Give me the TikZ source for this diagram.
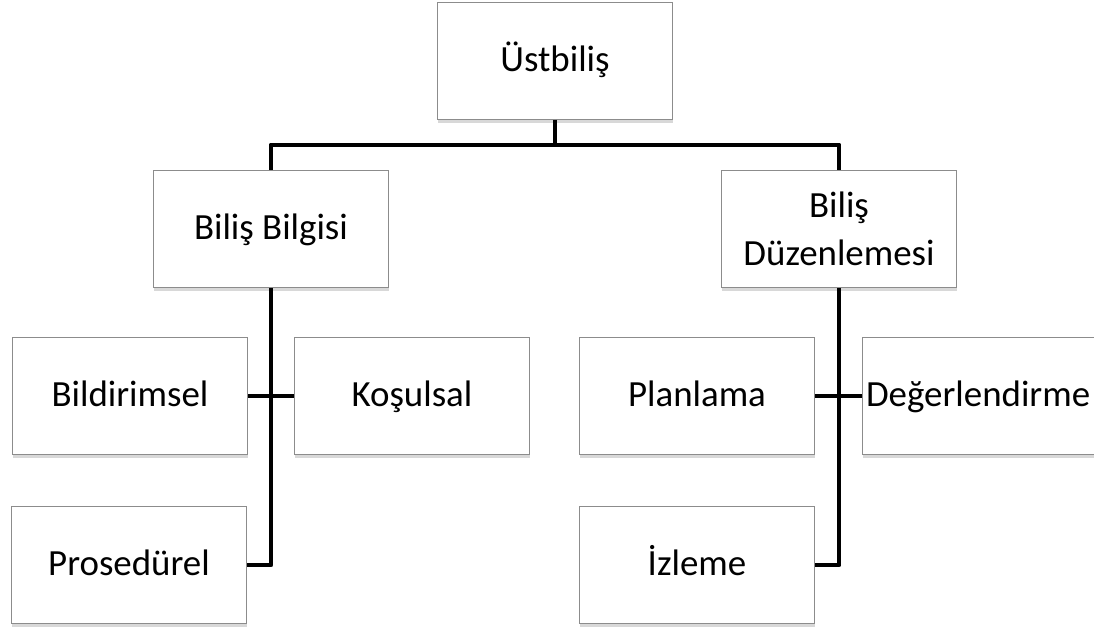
\documentclass[tikz,border=0pt]{standalone}
\usepackage{fontspec}
\setmainfont{Carlito}
\usepackage{xcolor}
\definecolor{BoxBorder}{HTML}{8C8C8C}
\definecolor{LineDark}{HTML}{000000}
\usetikzlibrary{shadows, positioning, calc}

\begin{document}
\begin{tikzpicture}[
  x=0.02cm, y=-0.02cm,
  % Kutu mit Schatten
  kutu/.style={
    draw=BoxBorder,
    fill=white,
    line width=0.7pt,
    minimum width=4.7cm,
    minimum height=2.33cm,
    align=center,
    inner sep=0pt,
    text height=12pt,
    text depth=0pt,
    font=\fontsize{21}{25}\selectfont,
    drop shadow={shadow xshift=0.5pt, shadow yshift=-2pt, opacity=0.25, fill=black!60}
  },
  % Verbindungslinie
  baglanti/.style={
    draw=LineDark,
    line width=2.8pt,
    line join=round
  }
]

% =============================================================================
% HINTERGRUND
% =============================================================================
\useasboundingbox (0,0) rectangle (1094,628);
\clip (0,0) rectangle (1094,628);
\fill[white] (0,0) rectangle (1094,628);

% =============================================================================
% EBENE 1
% =============================================================================
\node[kutu] (ust) at (555,61) {Üstbiliş};

% =============================================================================
% EBENE 2
% =============================================================================
\node[kutu] (bilgi) at (271,229) {Biliş Bilgisi};
\node[kutu, text height=, text depth=] (duzen) at (839,229) {Biliş\\[2pt]Düzenlemesi};

% =============================================================================
% EBENE 3 (links)
% =============================================================================
\node[kutu] (bild) at (130,396) {Bildirimsel};
\node[kutu] (kosul) at (412,396) {Koşulsal};
\node[kutu] (prose) at (129,565) {Prosedürel};

% =============================================================================
% EBENE 3 (rechts)
% =============================================================================
\node[kutu] (plan) at (697,396) {Planlama};
\node[kutu, text width=4.7cm, align=left] (deger) at (980,396) {\hspace{2pt}Değerlendirme};
\node[kutu] (izle) at (697,565) {İzleme};

% =============================================================================
% VERBINDUNGEN
% =============================================================================
\coordinate (bar) at (555,145);
\draw[baglanti] (ust.south) -- (bar);
\draw[baglanti] (bilgi.north) |- (bar) -| (duzen.north);

% Biliş Bilgisi
\draw[baglanti] (bilgi.south) |- (prose.east);
\draw[baglanti] (bild.east) -- (kosul.west);

% Biliş Düzenlemesi
\draw[baglanti] (duzen.south) |- (izle.east);
\draw[baglanti] (plan.east) -- (deger.west);

\end{tikzpicture}
\end{document}
